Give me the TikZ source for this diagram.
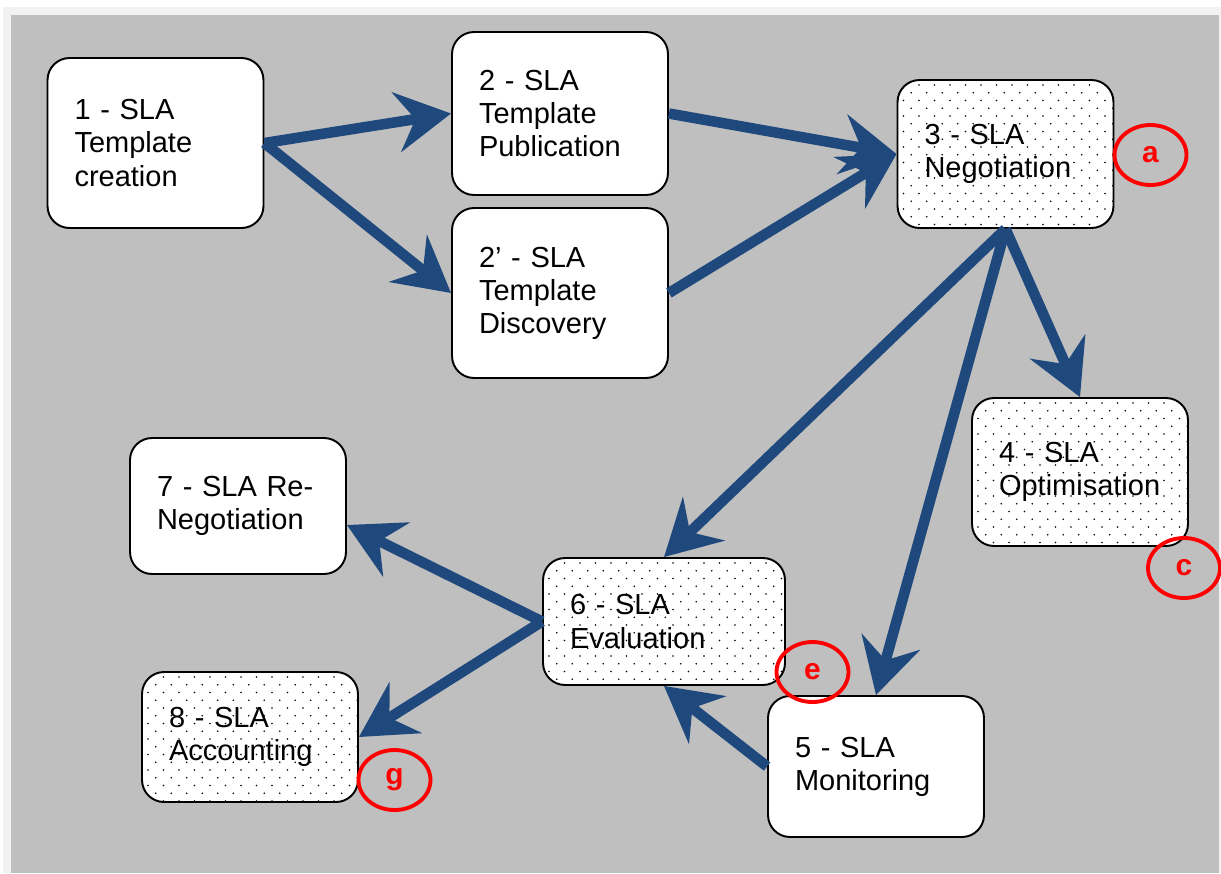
\documentclass[tikz,border=0pt]{standalone}
\usepackage{fontspec}
\setmainfont{Liberation Sans}
\usepackage{xcolor}
\usetikzlibrary{
  arrows.meta,
  shapes.geometric
}
\definecolor{flowblue}{RGB}{31,73,125}
\definecolor{panelgray}{RGB}{191,191,191}
\definecolor{framegray}{RGB}{242,242,242}

\begin{document}
\begin{tikzpicture}[x=0.02cm, y=-0.02cm,
  stage/.style = {shape=rectangle, draw, line width=1.1pt,
    rounded corners=0.44cm, fill=white, align=left,
    text width=3.24cm, inner xsep=0.54cm, minimum width=4.32cm,
    font=\fontsize{16.5}{18.8}\selectfont},
  dotted stage/.style = {stage, path picture={
    \foreach \j in {0,...,22}
      \foreach \i in {0,...,16}
        \fill[black] ([shift={({\i*15.5+mod(\j,2)*7.75+6},{\j*7.75+5})}]path picture bounding box.north west)
          circle (0.5pt);}},
  flow/.style = {draw=flowblue, line width=6pt,
    -{Stealth[length=1.1cm, width=1.2cm, inset=0.38cm]}}]
  \tikzset{remark/.style = {shape=ellipse, draw=red, line width=2.2pt,
    minimum width=1.44cm, minimum height=1.2cm, inner sep=0pt,
    text=red, font=\fontsize{17}{20}\selectfont\bfseries}}
  \useasboundingbox (0,0) rectangle (1221,873);
  \fill[white] (0,0) rectangle (1221,873);
  \fill[framegray] (3,7) rectangle (1221,873);
  \fill[panelgray] (11,15) rectangle (1219,873);

  \node[stage, minimum height=3.4cm] (s1) at (155.5,143) {1 - SLA\\Template\\creation};
  \node[stage, minimum height=3.26cm] (s2) at (560,113.5) {2 - SLA\\Template\\Publication};
  \node[stage, minimum height=3.4cm] (s2b) at (560,293) {2' - SLA\\Template\\Discovery};
  \node[dotted stage, minimum height=2.96cm] (s3) at (1005.5,154) {3 - SLA\\Negotiation};
  \node[dotted stage, minimum height=2.96cm] (s4) at (1080,472) {4 - SLA\\Optimisation};
  \node[stage, minimum height=2.82cm] (s5) at (876,766.5) {5 - SLA\\Monitoring};
  \node[dotted stage, minimum height=2.54cm, minimum width=4.84cm, text width=3.76cm] (s6) at (664,621.5) {6 - SLA\\Evaluation};
  \node[stage, minimum height=2.72cm] (s7) at (238,506) {7 - SLA Re-\\Negotiation};
  \node[dotted stage, minimum height=2.6cm] (s8) at (250,737) {8 - SLA\\Accounting};

  \node[remark] (ra) at (1150.5,155) {a};
  \node[remark] (rc) at (1184,568) {c};
  \node[remark] (re) at (812.5,672) {e};
  \node[remark] (rg) at (394.5,780) {g};

  \draw[flow] (s1.east) -- (s2.west);
  \draw[flow] (s1.east) -- (s2b.west);
  \draw[flow] (s2.east) -- (s3.west);
  \draw[flow] (s2b.east) -- (s3.west);
  \draw[flow] (s3.south) -- (s6.north);
  \draw[flow] (s3.south) -- (s4.north);
  \draw[flow] (s3.south) -- (s5.north);
  \draw[flow] (s5.west) -- (s6.south);
  \draw[flow] (s6.west) -- ([yshift=-0.38cm]s7.east);
  \draw[flow] (s6.west) -- (s8.east);
\end{tikzpicture}
\end{document}
